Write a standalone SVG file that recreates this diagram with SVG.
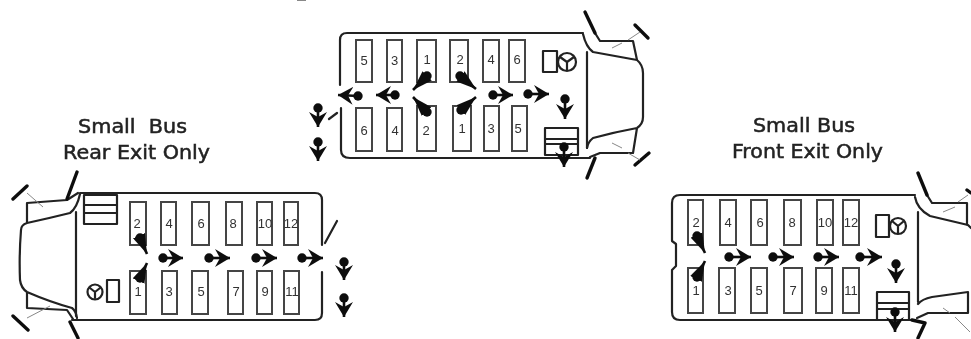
<svg xmlns="http://www.w3.org/2000/svg" width="971" height="339" viewBox="0 0 971 339">
<style>
.b{fill:none;stroke:#222;stroke-width:2.2;stroke-linejoin:round;stroke-linecap:round}
.m{fill:none;stroke:#111;stroke-width:3.4;stroke-linecap:round}
.g{fill:none;stroke:#888;stroke-width:1}
.s{fill:#fff;stroke:#444;stroke-width:2}
.n{font:13px "Liberation Sans",sans-serif;fill:#333;text-anchor:middle}
.t{font:19px "DejaVu Sans",sans-serif;fill:#222;stroke:#222;stroke-width:.5;white-space:pre}
.c{stroke:#111;stroke-width:2.6;fill:none}
.f{fill:#111}
</style>
<defs>
<filter id="soft" x="0" y="0" width="100%" height="100%"><feGaussianBlur stdDeviation="0.45"/></filter>
<marker id="h" markerUnits="userSpaceOnUse" markerWidth="15" markerHeight="18" viewBox="0 0 15 18" refX="15" refY="9" orient="auto"><path class="f" d="M0 0L15 9L0 18L5 9Z"/></marker>
<marker id="w" markerUnits="userSpaceOnUse" markerWidth="20" markerHeight="13" viewBox="0 0 20 13" refX="20" refY="6.500" orient="auto"><path class="f" d="M0 0L20 6.500L0 13Z"/></marker>
<marker id="d" markerUnits="userSpaceOnUse" markerWidth="10" markerHeight="10" viewBox="0 0 10 10" refX="5" refY="5"><circle class="f" cx="5" cy="5" r="4.700"/></marker>
</defs>
<g filter="url(#soft)">
<rect width="971" height="339" fill="#fff"/>
<path class="g" d="M297 0.500H306"/>
<g id="bus-top">
<path class="b" d="M340 85V40Q340 33 347 33H583M341 108V150Q341 158 350 158H590M329 119L337 113M587 52V148"/>
<path class="b" d="M583 34Q586 47 593 52Q615 56 637 60Q643 65 643 73V117Q643 124 637 128Q615 132 593 138Q588 142 587 148M595 33L600 41H633L637 60M590 157L600 153H633L637 128"/>
<path class="m" d="M585 12L595 33M635 25L648 38M595 158L587 178M635 165L649 153"/>
<path class="g" d="M628 40L640 32M612 48L622 43M628 153L640 160M612 143L622 148"/>
<rect class="b" x="543" y="51" width="14" height="21"/><circle class="b" cx="567" cy="62" r="9"/><path class="b" d="M567 62L560 57M567 62L574 57M567 62V70"/>
<rect class="b" x="545" y="128" width="33" height="27"/><path class="b" d="M545 139H578M545 144H578"/>
</g>
<g id="bus-left">
<path class="b" d="M80 193H315Q322 193 322 200V245M322 272V313Q322 320 315 320H72M76 212V316M325 243L337 221"/>
<path class="b" d="M80 194Q77 208 70 213Q50 218 27 223Q21 225 21 230Q19 255 20 280Q21 288 27 292Q50 302 72 308Q76 311 77 318M78 193L67 200L27 203V223M73 319L67 310L27 308V292"/>
<path class="m" d="M77 172L67 199M13 199L27 186M70 322L78 338M13 316L28 330"/>
<path class="g" d="M27 193L43 207M27 318L50 306"/>
<circle class="b" cx="95" cy="292" r="7.500"/><path class="b" d="M95 292L90 288M95 292L100 288M95 292V298"/><rect class="b" x="107" y="280" width="12" height="22"/>
<rect class="b" x="84" y="195" width="33" height="29"/><path class="b" d="M84 205H117M84 213H117"/>
<text class="t" x="78" y="133" textLength="109" lengthAdjust="spacingAndGlyphs">Small  Bus</text>
<text class="t" x="63" y="159" textLength="147" lengthAdjust="spacingAndGlyphs">Rear Exit Only</text>
</g>
<g id="bus-right">
<path class="b" d="M915 195H680Q672 195 672 203V241L676 244V266L672 270V312Q672 320 680 320H912M918 212V302"/>
<path class="b" d="M915 197Q917 209 930 216L968 225L971 228M918 304Q922 299 932 297L968 292V313M917 318L928 313H968V294M927 195L932 203H967V225"/>
<path class="m" d="M918 173L927 195M967 190L971 193M925 323L918 338M912 320L925 323"/>
<path class="g" d="M943 212L955 207M958 202L968 195M943 308L950 313M955 317L970 332"/>
<rect class="b" x="876" y="215" width="13" height="22"/><circle class="b" cx="898" cy="226" r="8"/><path class="b" d="M898 226L892 221M898 226L904 221M898 226V233"/>
<rect class="b" x="877" y="292" width="32" height="28"/><path class="b" d="M877 303H909M877 309H909"/>
<text class="t" x="753" y="132" textLength="102" lengthAdjust="spacingAndGlyphs">Small Bus</text>
<text class="t" x="732" y="158" textLength="151" lengthAdjust="spacingAndGlyphs">Front Exit Only</text>
</g>
<g id="seats-top">
<g id="t5"><rect class="s" x="356" y="40" width="16" height="42"/><text class="n" x="364" y="65">5</text></g>
<g id="t3"><rect class="s" x="387" y="40" width="15" height="42"/><text class="n" x="394.500" y="65">3</text></g>
<g id="t1"><rect class="s" x="417" y="40" width="19" height="42"/><text class="n" x="427" y="64">1</text></g>
<g id="t2"><rect class="s" x="450" y="40" width="18" height="42"/><text class="n" x="460" y="64">2</text></g>
<g id="t4"><rect class="s" x="483" y="40" width="16" height="42"/><text class="n" x="491" y="64">4</text></g>
<g id="t6"><rect class="s" x="509" y="40" width="16" height="42"/><text class="n" x="517" y="64">6</text></g>
<g id="t6b"><rect class="s" x="356" y="108" width="16" height="43"/><text class="n" x="364" y="135">6</text></g>
<g id="t4b"><rect class="s" x="387" y="108" width="15" height="43"/><text class="n" x="395" y="135">4</text></g>
<g id="t2b"><rect class="s" x="417" y="106" width="19" height="45"/><text class="n" x="426" y="135">2</text></g>
<g id="t1b"><rect class="s" x="453" y="106" width="18" height="45"/><text class="n" x="462" y="133">1</text></g>
<g id="t3b"><rect class="s" x="484" y="106" width="15" height="45"/><text class="n" x="491" y="133">3</text></g>
<g id="t5b"><rect class="s" x="512" y="106" width="15" height="45"/><text class="n" x="518" y="133">5</text></g>
</g>
<g id="seats-left">
<g id="l2"><rect class="s" x="130" y="202" width="16" height="43"/><text class="n" x="137" y="228">2</text></g>
<g id="l4"><rect class="s" x="161" y="202" width="15" height="43"/><text class="n" x="169" y="228">4</text></g>
<g id="l6"><rect class="s" x="192" y="202" width="17" height="43"/><text class="n" x="201" y="228">6</text></g>
<g id="l8"><rect class="s" x="226" y="202" width="16" height="43"/><text class="n" x="233" y="228">8</text></g>
<g id="l10"><rect class="s" x="257" y="202" width="15" height="43"/><text class="n" x="265" y="228">10</text></g>
<g id="l12"><rect class="s" x="284" y="202" width="14" height="43"/><text class="n" x="291" y="228">12</text></g>
<g id="l1"><rect class="s" x="130" y="271" width="16" height="43"/><text class="n" x="138" y="296">1</text></g>
<g id="l3"><rect class="s" x="162" y="271" width="15" height="43"/><text class="n" x="169" y="296">3</text></g>
<g id="l5"><rect class="s" x="192" y="271" width="16" height="43"/><text class="n" x="201" y="296">5</text></g>
<g id="l7"><rect class="s" x="228" y="271" width="15" height="43"/><text class="n" x="236" y="296">7</text></g>
<g id="l9"><rect class="s" x="257" y="271" width="15" height="43"/><text class="n" x="265" y="296">9</text></g>
<g id="l11"><rect class="s" x="284" y="271" width="15" height="43"/><text class="n" x="292" y="296">11</text></g>
</g>
<g id="seats-right">
<g id="r2"><rect class="s" x="688" y="200" width="15" height="45"/><text class="n" x="696" y="227">2</text></g>
<g id="r4"><rect class="s" x="720" y="200" width="16" height="45"/><text class="n" x="728" y="227">4</text></g>
<g id="r6"><rect class="s" x="751" y="200" width="16" height="45"/><text class="n" x="760" y="227">6</text></g>
<g id="r8"><rect class="s" x="784" y="200" width="17" height="45"/><text class="n" x="792" y="227">8</text></g>
<g id="r10"><rect class="s" x="817" y="200" width="16" height="45"/><text class="n" x="825" y="227">10</text></g>
<g id="r12"><rect class="s" x="843" y="200" width="16" height="45"/><text class="n" x="851" y="227">12</text></g>
<g id="r1"><rect class="s" x="688" y="268" width="15" height="45"/><text class="n" x="696" y="295">1</text></g>
<g id="r3"><rect class="s" x="719" y="268" width="16" height="45"/><text class="n" x="728" y="295">3</text></g>
<g id="r5"><rect class="s" x="751" y="268" width="16" height="45"/><text class="n" x="759" y="295">5</text></g>
<g id="r7"><rect class="s" x="784" y="268" width="18" height="45"/><text class="n" x="793" y="295">7</text></g>
<g id="r9"><rect class="s" x="816" y="268" width="16" height="45"/><text class="n" x="824" y="295">9</text></g>
<g id="r11"><rect class="s" x="843" y="268" width="16" height="45"/><text class="n" x="851" y="295">11</text></g>
</g>
<g id="connectors" marker-start="url(#d)" marker-end="url(#h)">
<line class="c" x1="358" y1="96" x2="338" y2="95"/>
<line class="c" x1="395" y1="95" x2="376" y2="95"/>
<line class="c" x1="493" y1="95" x2="513" y2="95"/>
<line class="c" x1="528" y1="94" x2="549" y2="94"/>
<line class="c" x1="427" y1="76" x2="413" y2="90" marker-end="url(#w)"/>
<line class="c" x1="460" y1="76" x2="476" y2="89" marker-end="url(#w)"/>
<line class="c" x1="427" y1="112" x2="413" y2="97" marker-end="url(#w)"/>
<line class="c" x1="461" y1="110" x2="476" y2="97" marker-end="url(#w)"/>
<line class="c" x1="565" y1="99" x2="565" y2="119"/>
<line class="c" x1="564" y1="147" x2="564" y2="167"/>
<line class="c" x1="318" y1="108" x2="318" y2="127"/>
<line class="c" x1="318" y1="142" x2="318" y2="161"/>
<line class="c" x1="163" y1="258" x2="183" y2="258"/>
<line class="c" x1="209" y1="258" x2="230" y2="258"/>
<line class="c" x1="256" y1="258" x2="277" y2="258"/>
<line class="c" x1="302" y1="258" x2="323" y2="258"/>
<line class="c" x1="140" y1="238" x2="147" y2="254" marker-end="url(#w)"/>
<line class="c" x1="140" y1="278" x2="147" y2="263" marker-end="url(#w)"/>
<line class="c" x1="344" y1="262" x2="344" y2="280"/>
<line class="c" x1="344" y1="298" x2="344" y2="317"/>
<line class="c" x1="729" y1="257" x2="751" y2="257"/>
<line class="c" x1="773" y1="257" x2="794" y2="257"/>
<line class="c" x1="818" y1="257" x2="839" y2="257"/>
<line class="c" x1="860" y1="257" x2="882" y2="257"/>
<line class="c" x1="697" y1="236" x2="705" y2="253" marker-end="url(#w)"/>
<line class="c" x1="697" y1="277" x2="705" y2="261" marker-end="url(#w)"/>
<line class="c" x1="896" y1="264" x2="896" y2="283"/>
<line class="c" x1="895" y1="312" x2="895" y2="332"/>
</g>
</g>
</svg>
